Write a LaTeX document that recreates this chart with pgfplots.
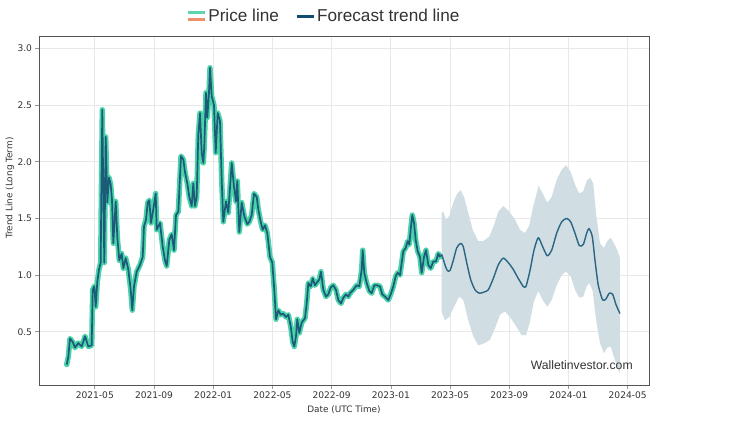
\documentclass[border=0pt]{standalone}
\usepackage{fontspec}
\setmainfont{Liberation Sans}
\newfontfamily\dejavu{DejaVu Sans}
\usepackage{pgfplots}
\usepackage{pgfplotstable}
\pgfplotsset{compat=1.18}
\usepgfplotslibrary{fillbetween}
\definecolor{halo}{HTML}{4AD3A9}
\definecolor{halolegend}{HTML}{5CD6AA}
\definecolor{pline}{HTML}{1B5A78}
\definecolor{fline}{HTML}{2A6583}
\definecolor{band}{HTML}{D0DDE3}
\definecolor{salmon}{HTML}{F28E6E}
\definecolor{legblue}{HTML}{0F4D6E}
\definecolor{gridc}{HTML}{E8E8E8}
\definecolor{axc}{HTML}{555555}
\definecolor{txt}{HTML}{333333}

% column m is in reading units; month index since 2021-01 = 0.9*m + 0.4
\pgfplotstableread{
m v
1.891 0.21
2.011 0.28
2.138 0.44
2.341 0.41
2.514 0.36
2.761 0.40
3.017 0.37
3.264 0.46
3.512 0.37
3.767 0.38
3.842 0.87
3.962 0.90
4.067 0.72
4.188 0.94
4.315 1.05
4.443 1.11
4.488 1.69
4.563 2.46
4.638 1.75
4.713 1.11
4.818 2.22
4.938 1.64
5.066 1.86
5.193 1.80
5.291 1.66
5.389 1.28
5.569 1.65
5.689 1.34
5.839 1.13
6.019 1.19
6.139 1.06
6.319 1.15
6.515 1.05
6.695 0.87
6.815 0.69
6.942 0.90
7.145 1.03
7.393 1.09
7.595 1.16
7.693 1.43
7.843 1.49
7.971 1.64
8.091 1.66
8.218 1.46
8.391 1.58
8.571 1.72
8.646 1.40
8.894 1.46
9.097 1.25
9.269 1.13
9.397 1.08
9.592 1.31
9.772 1.36
9.945 1.22
10.095 1.53
10.268 1.56
10.470 2.05
10.643 2.02
10.770 1.91
10.943 1.81
11.093 1.69
11.273 1.61
11.393 1.81
11.521 1.61
11.648 1.69
11.769 2.24
11.896 2.43
12.024 2.08
12.144 1.99
12.219 2.14
12.347 2.61
12.444 2.39
12.572 2.61
12.647 2.83
12.774 2.58
12.947 2.50
13.075 2.08
13.225 2.43
13.397 2.36
13.525 1.84
13.645 1.47
13.848 1.65
14.020 1.55
14.276 1.99
14.448 1.78
14.598 1.65
14.696 1.83
14.846 1.38
15.026 1.64
15.222 1.52
15.447 1.45
15.597 1.47
15.777 1.53
15.950 1.72
16.152 1.69
16.272 1.58
16.453 1.47
16.603 1.40
16.775 1.44
16.948 1.37
17.151 1.16
17.323 1.11
17.473 0.87
17.601 0.61
17.774 0.69
17.954 0.65
18.149 0.66
18.352 0.63
18.524 0.65
18.704 0.55
18.854 0.41
18.975 0.37
19.102 0.46
19.200 0.61
19.350 0.49
19.530 0.58
19.778 0.62
19.905 0.75
20.025 0.93
20.206 0.90
20.356 0.97
20.528 0.91
20.701 0.94
20.851 0.96
20.979 1.03
21.151 0.87
21.354 0.81
21.527 0.83
21.707 0.89
21.902 0.91
22.104 0.87
22.277 0.78
22.480 0.75
22.652 0.80
22.855 0.83
23.028 0.81
23.155 0.84
23.403 0.87
23.658 0.91
23.854 0.90
24.033 1.05
24.108 1.22
24.229 1.02
24.409 0.93
24.604 0.86
24.784 0.84
24.980 0.91
25.205 0.91
25.407 0.90
25.580 0.83
25.783 0.81
26.030 0.78
26.211 0.83
26.406 0.90
26.586 0.99
26.736 1.02
26.909 1.00
27.037 1.11
27.157 1.21
27.337 1.24
27.487 1.30
27.607 1.27
27.735 1.43
27.832 1.53
27.960 1.46
28.087 1.31
28.237 1.21
28.410 1.16
28.537 1.02
28.710 1.16
28.860 1.22
29.033 1.09
29.213 1.06
29.408 1.12
29.611 1.12
29.783 1.19
29.911 1.16
}\pricedata

\pgfplotstableread{
m v
29.911 1.16
30.038 1.18
30.286 1.09
30.459 1.04
30.662 1.04
30.909 1.13
31.164 1.24
31.465 1.28
31.660 1.25
31.915 1.11
32.215 0.96
32.538 0.87
32.861 0.84
33.213 0.85
33.536 0.87
33.911 0.97
34.286 1.09
34.662 1.15
35.037 1.11
35.412 1.05
35.788 0.97
36.163 0.90
36.366 0.90
36.666 1.04
36.967 1.22
37.289 1.33
37.619 1.25
37.965 1.17
38.295 1.22
38.670 1.37
39.045 1.47
39.421 1.50
39.721 1.47
40.044 1.37
40.367 1.26
40.667 1.27
40.922 1.37
41.095 1.41
41.342 1.34
41.545 1.13
41.793 0.91
42.123 0.78
42.371 0.79
42.618 0.84
42.874 0.83
43.121 0.74
43.421 0.66
}\forecastdata

\pgfplotstableread{
m v
30.038 1.55
30.158 1.56
30.361 1.49
30.609 1.52
30.909 1.64
31.209 1.72
31.465 1.75
31.712 1.69
32.035 1.55
32.365 1.40
32.785 1.30
33.161 1.30
33.611 1.34
33.964 1.44
34.286 1.56
34.662 1.61
35.112 1.56
35.540 1.49
35.915 1.40
36.291 1.37
36.613 1.44
36.914 1.61
37.214 1.74
37.289 1.79
37.619 1.72
37.965 1.64
38.295 1.69
38.670 1.84
39.045 1.93
39.368 1.97
39.721 1.91
40.044 1.80
40.367 1.72
40.667 1.74
40.922 1.83
41.170 1.86
41.417 1.81
41.620 1.55
41.920 1.28
42.221 1.24
42.469 1.30
42.724 1.33
42.971 1.28
43.219 1.22
43.421 1.15
}\bandhidata

\pgfplotstableread{
m v
30.038 0.68
30.113 0.65
30.286 0.60
30.609 0.63
30.961 0.72
31.359 0.81
31.660 0.78
32.035 0.60
32.410 0.46
32.785 0.38
33.288 0.40
33.664 0.43
34.039 0.53
34.414 0.65
34.790 0.68
35.165 0.63
35.615 0.55
36.043 0.47
36.366 0.47
36.666 0.59
36.967 0.77
37.289 0.86
37.619 0.78
37.965 0.72
38.295 0.78
38.670 0.91
39.045 1.00
39.368 1.03
39.721 0.99
40.044 0.87
40.367 0.80
40.667 0.81
40.922 0.90
41.117 0.93
41.372 0.86
41.620 0.61
41.920 0.40
42.221 0.31
42.469 0.36
42.724 0.37
42.971 0.28
43.219 0.19
43.421 0.13
}\bandlodata

\begin{document}
\begin{tikzpicture}
\begin{axis}[
  at={(39bp,36bp)}, anchor=south west,
  scale only axis, width=610bp, height=349bp,
  xmin=0.23, xmax=41.44, ymin=0.03, ymax=3.11,
  xtick={4,8,12,16,20,24,28,32,36,40},
  xticklabels={2021-05,2021-09,2022-01,2022-05,2022-09,2023-01,2023-05,2023-09,2024-01,2024-05},
  ytick={0.5,1,1.5,2,2.5,3},
  yticklabel style={/pgf/number format/.cd, fixed, fixed zerofill, precision=1},
  /pgf/number format/assume math mode=true,
  ticklabel style={font=\dejavu\fontsize{9.1bp}{10bp}\selectfont, text=txt},
  xmajorgrids, ymajorgrids,
  grid style={gridc, line width=0.8bp},
  axis line style={axc, line width=0.9bp},
  tick style={axc!60, line width=0.7bp},
  tick align=outside, major tick length=3.5bp,
  xtick pos=bottom, ytick pos=left,
  xlabel={Date (UTC Time)}, ylabel={Trend Line (Long Term)},
  label style={font=\dejavu\fontsize{8.9bp}{10bp}\selectfont, text=txt},
  xlabel style={at={(axis description cs:0.5,-0.0716)}, anchor=center},
  ylabel style={at={(axis description cs:-0.0475,0.564)}, anchor=center},
  legend style={draw=none, fill=none, at={(0.467,1.057)}, anchor=center,
    font=\fontsize{17.2bp}{19bp}\selectfont, text=txt, legend columns=2,
    /tikz/every even column/.append style={column sep=14bp}},
  legend cell align=left,
]
\addlegendimage{legend image code/.code={
  \draw[halolegend, line width=3bp] (0bp,3.8bp) -- (17bp,3.8bp);
  \draw[salmon, line width=3bp] (0bp,-3.8bp) -- (17bp,-3.8bp);}}
\addlegendentry{Price line}
\addlegendimage{legend image code/.code={
  \draw[legblue, line width=3bp] (0bp,0bp) -- (17bp,0bp);}}
\addlegendentry{Forecast trend line}

\addplot[name path=up, draw=none, forget plot] table[x expr={0.9*\thisrow{m}+0.4}, y=v] {\bandhidata};
\addplot[name path=lo, draw=none, forget plot] table[x expr={0.9*\thisrow{m}+0.4}, y=v] {\bandlodata};
\addplot[band, forget plot] fill between[of=up and lo];

\addplot[halo, line width=5.4bp, line join=round, line cap=round, forget plot] table[x expr={0.9*\thisrow{m}+0.4}, y=v] {\pricedata};
\addplot[pline, line width=1.7bp, line join=round, forget plot] table[x expr={0.9*\thisrow{m}+0.4}, y=v] {\pricedata};
\addplot[fline, line width=1.4bp, line join=round, smooth, tension=0.4, forget plot] table[x expr={0.9*\thisrow{m}+0.4}, y=v] {\forecastdata};

\node[anchor=east, font=\fontsize{12.2bp}{14bp}\selectfont, text=txt] at (rel axis cs:0.979,0.057) {Walletinvestor.com};
\end{axis}
\path (0,0) rectangle (750bp,421bp);
\end{tikzpicture}
\end{document}
